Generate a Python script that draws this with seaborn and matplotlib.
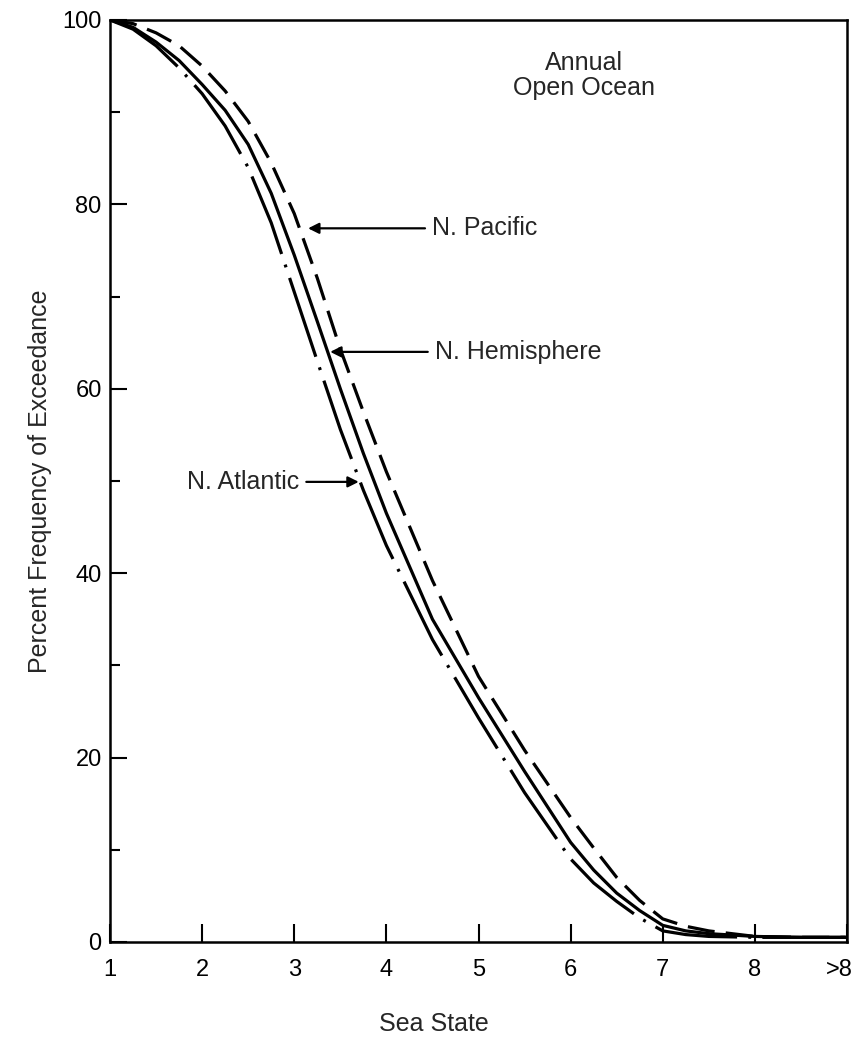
import matplotlib
matplotlib.use('Agg')
import matplotlib.pyplot as plt
import matplotlib.transforms as mtransforms
import seaborn as sns

# values
sea_state = [1.0, 1.25, 1.5, 1.75, 2.0, 2.25, 2.5, 2.75, 3.0, 3.25, 3.5, 3.75, 4.0,
             4.5, 5.0, 5.5, 6.0, 6.25, 6.5, 6.75, 7.0, 7.25, 7.5, 8.0, 8.5, 9.0]
n_hemisphere = [100, 99.2, 97.6, 95.6, 93, 90.2, 86.5, 81.2, 74.5, 67.3, 60, 53, 46.5,
                35, 26.5, 18.5, 10.8, 7.8, 5.3, 3.4, 1.8, 1.2, 0.9, 0.6, 0.5, 0.5]
n_atlantic = [100, 99, 97.2, 94.8, 92, 88.5, 84, 78, 70.5, 63, 55.6, 49, 43,
              32.8, 24.3, 16.2, 9.0, 6.4, 4.4, 2.6, 1.2, 0.8, 0.6, 0.5, 0.5, 0.5]
n_pacific = [100, 99.6, 98.6, 97.2, 95, 92.3, 89, 84.5, 79, 72, 64.3, 57.5, 51,
             39.2, 28.8, 20.8, 13.5, 10.2, 7.0, 4.5, 2.5, 1.7, 1.2, 0.6, 0.5, 0.5]
x_ticks = [1, 2, 3, 4, 5, 6, 7, 8, 9]
x_tick_labels = ['1', '2', '3', '4', '5', '6', '7', '8', '>8']

sns.set_style('ticks')
plt.rcParams['font.family'] = ['Liberation Sans', 'DejaVu Sans']

fig = plt.figure(figsize=(8.58, 10.39), dpi=100)
ax = fig.add_axes([0.1282, 0.0934, 0.8590, 0.8874])

sns.lineplot(x=sea_state, y=n_pacific, ax=ax, color='black', lw=2.3,
             linestyle=(0, (8.5, 3.5)))
sns.lineplot(x=sea_state, y=n_hemisphere, ax=ax, color='black', lw=2.3)
sns.lineplot(x=sea_state, y=n_atlantic, ax=ax, color='black', lw=2.3,
             linestyle=(0, (26, 3.5, 0.9, 3.5)))

ax.set_xlim(1, 9)
ax.set_ylim(0, 100)
ax.set_xticks(x_ticks)
ax.set_xticklabels(x_tick_labels)
ax.set_yticks(range(0, 101, 20))
ax.set_yticks(range(10, 100, 20), minor=True)

ax.tick_params(axis='both', which='both', direction='in', color='black',
               width=1.5, labelsize=17, labelcolor='black')
ax.tick_params(axis='y', which='major', length=12, pad=6)
ax.tick_params(axis='y', which='minor', length=7)
ax.tick_params(axis='x', which='major', length=13, pad=12)
for spine in ax.spines.values():
    spine.set_linewidth(1.8)
    spine.set_color('black')

# keep the ">8" label inside the figure
last = ax.get_xticklabels()[-1]
last.set_transform(last.get_transform() +
                   mtransforms.ScaledTranslation(-8 / 100, 0, fig.dpi_scale_trans))

arrow = dict(arrowstyle='-|>', color='black', lw=1.6, mutation_scale=16,
             shrinkA=3, shrinkB=0)
ax.annotate('N. Pacific', xy=(3.15, 77.4), xytext=(4.50, 77.4),
            ha='left', va='center', fontsize=18, arrowprops=arrow)
ax.annotate('N. Hemisphere', xy=(3.39, 64.0), xytext=(4.53, 64.0),
            ha='left', va='center', fontsize=18, arrowprops=arrow)
ax.annotate('N. Atlantic', xy=(3.70, 49.9), xytext=(3.05, 49.9),
            ha='right', va='center', fontsize=18, arrowprops=arrow)

ax.text(6.14, 94.0, 'Annual\nOpen Ocean', ha='center', va='center',
        multialignment='center', linespacing=1.05, fontsize=18)

ax.set_xlabel('Sea State', fontsize=18)
ax.xaxis.set_label_coords(0.44, -0.089)
ax.xaxis.label.set_va('center')
ax.set_ylabel('Percent Frequency of Exceedance', fontsize=18)
ax.yaxis.set_label_coords(-0.095, 0.5)
ax.yaxis.label.set_va('center')

fig.savefig('out.png', dpi=100)
